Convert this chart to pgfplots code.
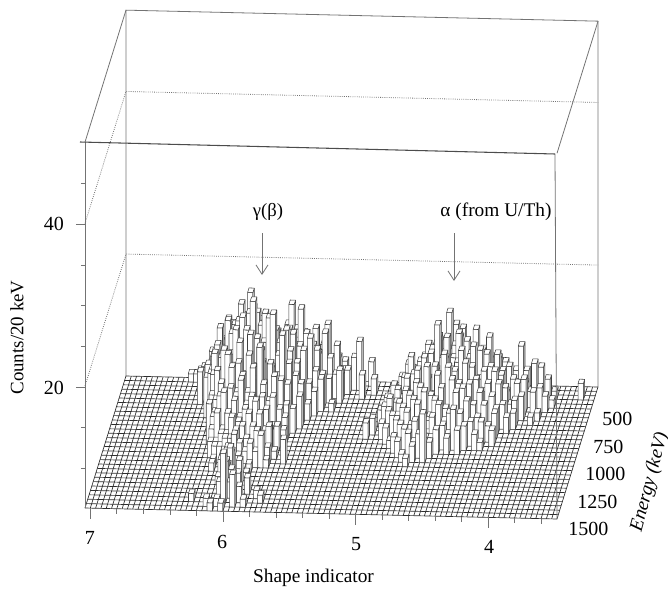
\documentclass[border=0pt]{standalone}
\usepackage{fontspec}
\setmainfont{Liberation Serif}
\usepackage{pgfplots}
\pgfplotsset{compat=1.18}
\usetikzlibrary{arrows.meta,calc}
\definecolor{boxc}{gray}{0.45}
\definecolor{gridc}{gray}{0.18}
\definecolor{barc}{gray}{0.25}
\pgfplotsset{colormap={bars}{gray(0cm)=(0.8); gray(1cm)=(1)},
  barpatch/.style={forget plot,patch,patch type=rectangle,shader=faceted,z buffer=none,
    point meta=explicit,point meta min=0,point meta max=1,colormap name=bars,
    faceted color=barc,line width=0.4pt}}
\newcommand\legorow[2]{%
  \pgfmathsetmacro\Eb{int(#1-40)}%
  \gdef\rowc{}%
  \foreach \s/\n in {#2}{%
    \pgfmathsetmacro\sb{\s-0.04}%
    \xdef\rowc{\rowc (\s,#1,5)[1](\sb,#1,5)[1](\sb,#1,\n)[1](\s,#1,\n)[1]
      (\sb,#1,5)[0](\sb,\Eb,5)[0](\sb,\Eb,\n)[0](\sb,#1,\n)[0]
      (\s,#1,\n)[1](\sb,#1,\n)[1](\sb,\Eb,\n)[1](\s,\Eb,\n)[1] }%
  }%
  \edef\doit{\noexpand\addplot3[barpatch] coordinates {\rowc};}\doit
}
\begin{document}
\begin{tikzpicture}[x=0.75pt,y=-0.75pt]
\begin{axis}[
  x={(-99.45pt,2.32pt)},y={(-0.025625pt,-0.0825pt)},z={(0pt,6.0975pt)},
  xmin=3.48,xmax=7.04,ymin=300,ymax=1500,zmin=5,zmax=50,
  hide axis,clip=false]
\coordinate (P0) at (axis cs:7.04,1500,5);
% back walls and top
\addplot3[forget plot,draw=boxc,line width=0.6pt] coordinates {(7.04,300,5)(7.04,300,50)(3.48,300,50)(3.48,300,5)};
\addplot3[forget plot,draw=boxc,line width=0.6pt] coordinates {(7.04,300,50)(7.04,1500,50)};
\addplot3[forget plot,draw=boxc,line width=0.6pt] coordinates {(3.48,300,50)(3.48,1500,50)};
\addplot3[forget plot,draw=boxc,line width=0.6pt,densely dotted] coordinates {(7.04,1500,40)(7.04,300,40)(3.48,300,40)};
\addplot3[forget plot,draw=boxc,line width=0.6pt,densely dotted] coordinates {(7.04,1500,20)(7.04,300,20)(3.48,300,20)};
\addplot3[forget plot,fill=white,draw=none] coordinates {(7.04,1500,5)(3.48,1500,5)(3.48,300,5)(7.04,300,5)} --cycle;
\pgfplotsinvokeforeach{0,...,89}{%
  \pgfmathsetmacro\gs{7.04-0.04*#1}%
  \addplot3[forget plot,draw=gridc,line width=0.5pt] coordinates {(\gs,1500,5)(\gs,300,5)};
}
\pgfplotsinvokeforeach{0,...,30}{%
  \pgfmathsetmacro\ge{1500-40*#1}%
  \addplot3[forget plot,draw=gridc,line width=0.5pt] coordinates {(7.04,\ge,5)(3.48,\ge,5)};
}
\legorow{340}{6.56/6,6.52/6,6.36/7,6.28/7,6.16/8,6.08/8,6.00/9,5.92/9,5.84/8,5.72/9,5.64/8,5.56/10,5.40/8,5.20/8,4.76/6,4.68/6,4.64/7,4.56/7,4.48/8,4.32/7}
\legorow{380}{6.48/7,6.40/8,6.32/7,6.28/9,6.24/8,6.20/9,6.12/9,6.08/10,6.00/10,5.96/11,5.92/9,5.88/10,5.84/9,5.80/10,5.72/10,5.68/11,5.64/8,5.60/10,5.56/9,5.52/13,5.48/8,5.44/9,5.32/9,5.28/11,4.80/7,4.72/8,4.68/8,4.60/8,4.56/9,4.48/8,4.40/9,4.32/7,4.24/8,4.12/7,3.96/6}
\legorow{420}{6.44/8,6.40/7,6.36/9,6.28/8,6.24/10,6.20/10,6.16/11,6.08/10,6.04/11,5.96/10,5.92/12,5.88/10,5.84/11,5.76/10,5.72/12,5.64/10,5.60/13,5.56/10,5.48/9,5.44/11,5.40/8,5.36/8,5.16/7,4.84/8,4.76/8,4.72/9,4.64/9,4.60/10,4.52/10,4.44/9,4.40/11,4.32/9,4.28/10,4.20/7,4.16/8,4.04/7,3.92/7,3.80/6,3.60/7}
\legorow{460}{6.44/7,6.40/8,6.32/10,6.28/9,6.24/12,6.16/10,6.12/12,6.04/12,6.00/14,5.96/12,5.92/11,5.88/13,5.84/11,5.80/14,5.72/12,5.68/13,5.64/11,5.60/10,5.52/13,5.48/10,5.44/8,5.40/8,5.24/8,4.88/8,4.84/8,4.80/9,4.72/10,4.68/12,4.60/10,4.56/11,4.52/10,4.48/14,4.40/10,4.36/11,4.28/13,4.20/10,4.16/10,4.08/9,4.04/12,4.00/9,3.92/9,3.84/8}
\legorow{500}{6.40/9,6.36/11,6.28/12,6.24/15,6.20/12,6.16/13,6.12/12,6.08/14,6.04/12,6.00/15,5.96/12,5.92/14,5.88/11,5.84/13,5.80/12,5.76/17,5.72/14,5.68/12,5.64/11,5.60/12,5.56/11,5.52/8,5.48/8,5.40/9,4.88/10,4.84/9,4.76/11,4.72/10,4.64/13,4.60/11,4.52/15,4.48/12,4.44/13,4.36/11,4.32/12,4.24/9,4.20/11,4.12/10,4.08/8,4.00/8,3.96/7,3.88/10,3.80/6}
\legorow{540}{6.44/9,6.36/9,6.32/11,6.28/13,6.24/12,6.20/15,6.16/12,6.12/16,6.08/13,6.04/17,6.00/13,5.96/15,5.92/12,5.88/13,5.84/12,5.80/14,5.76/13,5.72/13,5.68/17,5.64/14,5.60/11,5.56/12,5.52/9,4.92/9,4.88/8,4.84/10,4.76/11,4.72/13,4.68/11,4.64/14,4.60/12,4.56/17,4.52/13,4.48/14,4.40/12,4.36/15,4.32/11,4.28/12,4.20/12,4.16/10,4.08/9,4.00/9,3.92/11,3.88/8,3.84/7}
\legorow{580}{6.36/10,6.32/12,6.28/15,6.24/11,6.20/14,6.16/12,6.12/18,6.08/16,6.04/14,6.00/17,5.96/13,5.92/15,5.88/12,5.84/14,5.80/12,5.76/15,5.72/12,5.68/13,5.64/11,5.60/14,5.56/10,5.52/9,5.44/6,4.96/8,4.88/9,4.84/12,4.80/9,4.76/11,4.68/13,4.64/16,4.60/12,4.56/13,4.52/12,4.48/15,4.44/11,4.40/12,4.36/10,4.32/13,4.28/10,4.24/11,4.16/10,4.12/8,4.04/9,3.92/8}
\legorow{620}{6.36/11,6.32/12,6.28/10,6.24/13,6.20/14,6.16/16,6.12/13,6.08/15,6.04/20,6.00/14,5.96/16,5.92/13,5.88/16,5.84/12,5.80/14,5.76/12,5.72/15,5.68/11,5.64/13,5.60/9,5.56/8,4.96/9,4.92/8,4.88/10,4.84/9,4.76/12,4.72/10,4.68/13,4.64/11,4.56/15,4.52/11,4.48/12,4.44/10,4.36/14,4.32/10,4.28/11,4.24/9,4.20/11,4.12/9,4.08/7,4.00/8,3.88/6}
\legorow{660}{6.36/10,6.32/11,6.28/14,6.24/13,6.20/17,6.16/13,6.12/17,6.08/14,6.04/18,6.00/15,5.96/13,5.92/18,5.88/14,5.84/16,5.80/13,5.76/16,5.72/10,5.68/12,5.60/7,5.00/8,4.92/9,4.88/8,4.80/11,4.76/9,4.72/13,4.68/10,4.64/12,4.60/10,4.56/13,4.52/11,4.44/14,4.40/10,4.36/12,4.28/9,4.24/10,4.16/10,4.04/8,3.92/6}
\legorow{700}{6.32/11,6.28/10,6.24/13,6.20/12,6.16/16,6.12/14,6.08/18,6.04/14,6.00/20,5.96/14,5.92/15,5.88/18,5.84/13,5.80/15,5.76/11,5.72/14,5.68/11,5.64/10,5.04/7,4.96/7,4.92/8,4.84/11,4.80/9,4.76/12,4.68/11,4.64/9,4.56/14,4.52/10,4.48/12,4.44/10,4.40/13,4.36/9,4.32/11,4.20/9,4.12/8,4.04/7}
\legorow{740}{6.28/14,6.24/11,6.20/13,6.16/14,6.12/17,6.08/13,6.04/17,6.00/13,5.96/16,5.92/13,5.84/19,5.80/14,5.76/11,5.72/13,5.64/9,5.12/6,5.00/8,4.96/9,4.88/8,4.84/10,4.80/9,4.76/11,4.72/9,4.68/13,4.60/12,4.56/10,4.52/13,4.48/9,4.44/11,4.36/11,4.32/8,4.28/10,4.16/8,4.08/7}
\legorow{780}{6.28/12,6.24/11,6.20/15,6.16/13,6.12/13,6.08/16,6.04/12,6.00/17,5.96/13,5.92/15,5.88/11,5.84/13,5.80/12,5.76/17,5.72/11,5.68/8,5.08/7,4.96/8,4.92/7,4.88/9,4.80/10,4.76/8,4.72/11,4.64/10,4.60/9,4.56/11,4.48/12,4.44/9,4.40/11,4.32/9,4.24/9,4.16/8}
\legorow{820}{6.28/10,6.24/13,6.20/11,6.16/15,6.12/12,6.08/14,6.04/12,6.00/15,5.96/12,5.92/16,5.88/11,5.84/14,5.80/10,5.76/12,5.72/9,5.12/7,5.00/7,4.92/8,4.88/8,4.84/9,4.80/8,4.76/10,4.68/11,4.64/8,4.60/10,4.52/9,4.48/8,4.44/11,4.36/10,4.32/7,4.28/8,4.20/7}
\legorow{860}{6.28/9,6.24/10,6.20/12,6.16/11,6.12/14,6.08/11,6.04/13,6.00/11,5.96/14,5.92/10,5.88/12,5.84/10,5.80/13,5.76/9,5.72/8,4.96/7,4.88/8,4.84/7,4.80/9,4.72/10,4.68/8,4.64/8,4.56/10,4.52/8,4.48/9,4.40/9,4.36/7,4.32/8,4.24/8,4.16/7}
\legorow{900}{6.28/10,6.24/9,6.20/11,6.16/10,6.12/12,6.08/11,6.04/13,6.00/10,5.96/11,5.92/9,5.88/11,5.84/9,5.80/11,5.72/7,4.92/6,4.84/8,4.80/7,4.76/8,4.68/9,4.64/7,4.60/9,4.52/8,4.48/7,4.44/10,4.36/8,4.28/7,4.24/6}
\legorow{940}{6.24/9,6.20/8,6.16/12,6.12/9,6.08/11,6.04/9,6.00/10,5.96/9,5.92/11,5.88/8,5.84/10,5.80/8,5.76/8,4.88/7,4.80/8,4.76/7,4.72/9,4.64/7,4.60/7,4.56/8,4.48/7,4.40/8}
\legorow{980}{6.24/8,6.20/10,6.16/8,6.12/10,6.08/9,6.04/9,6.00/8,5.96/10,5.92/8,5.88/10,5.84/8,5.80/8,4.84/7,4.76/8,4.72/7,4.68/8,4.60/7}
\legorow{1020}{6.24/7,6.20/7,6.16/8,6.12/8,6.08/10,6.04/8,6.00/9,5.96/7,5.92/9,5.88/7,5.80/9,5.76/6,4.80/6,4.72/7,4.64/11}
\legorow{1060}{6.20/7,6.16/7,6.12/8,6.08/8,6.04/9,6.00/7,5.96/8,5.92/7,5.88/9,5.80/7,5.68/8,4.76/6}
\legorow{1100}{6.20/6,6.12/7,6.04/9,6.00/8,5.96/7,5.92/8,5.88/7,5.84/9,5.80/6}
\legorow{1140}{6.20/6,6.12/7,6.08/8,6.00/7,5.92/6}
\legorow{1180}{6.12/7,6.08/8,6.04/8,5.96/6}
\legorow{1220}{6.08/7,6.04/9,5.92/6}
\legorow{1260}{6.12/6,6.08/8,6.00/6,5.96/8}
\legorow{1300}{6.04/8,5.96/7}
\legorow{1340}{6.04/9,6.00/8,5.88/7}
\legorow{1380}{6.08/7,6.00/7,5.80/6}
\legorow{1420}{6.28/6,6.04/11,5.92/7,5.76/6}
\legorow{1460}{6.16/6,6.08/6,5.96/9,5.88/6}
\legorow{1500}{6.12/6,6.04/6}
\end{axis}
\begin{scope}[shift={($(P0)-(85,508)$)}]
\path[use as bounding box] (0,0) rectangle (668,590);
% front edges
\draw[boxc,line width=0.6pt] (85,142) -- (85,508);
\draw[boxc,line width=0.6pt] (555,154) -- (557,519);
\draw[black!70,line width=0.8pt] (80,142) -- (555,154);
% x ticks
\foreach \k in {0,1,...,17}{
  \pgfmathsetmacro\xx{90.3+26.52*\k}\pgfmathsetmacro\yy{508.2+0.618*\k}
  \pgfmathsetmacro\ll{ifthenelse(mod(\k,5)==0,11,5)}
  \draw[boxc,line width=0.5pt] (\xx,\yy) -- (\xx,\yy+\ll);
}
% z ticks
\foreach \yy in {183,265,305.5,346,427,468}{\draw[boxc,line width=0.5pt] (81,\yy) -- (85,\yy);}
\foreach \yy in {224,387}{\draw[boxc,line width=0.5pt] (76,\yy) -- (85,\yy);}
\node[font=\fontsize{15}{18}\selectfont] at (54,224) {40};
\node[font=\fontsize{15}{18}\selectfont] at (54,388) {20};
\foreach \xx/\yy/\t in {90/538/7,222/542/6,356/544/5,489/547/4}{
  \node[font=\fontsize{15}{18}\selectfont] at (\xx,\yy) {\t};
}
\foreach \xx/\yy/\t in {602/419/500,593/447/750,585/474/1000,577/502/1250,568/529/1500}{
  \node[font=\fontsize{15}{18}\selectfont,anchor=west,inner sep=0pt] at (\xx,\yy) {\t};
}
\node[font=\fontsize{14.5}{16}\selectfont] at (313.5,578) {Shape indicator};
\node[font=\fontsize{14.2}{16}\selectfont,rotate=90] at (17,337.5) {Counts/20 keV};
\node[font=\fontsize{14.5}{16}\selectfont\itshape,rotate=75] at (650,482) {Energy (keV)};
\node[font=\fontsize{14}{16}\selectfont] at (268,212) {γ(β)};
\node[font=\fontsize{14.5}{16}\selectfont] at (496,212) {α (from U/Th)};
\draw[boxc,line width=0.6pt,-{Straight Barb[length=7pt,width=9pt]}] (262,233) -- (262,275);
\draw[boxc,line width=0.6pt,-{Straight Barb[length=7pt,width=9pt]}] (454,233) -- (454,281);
\end{scope}
\end{tikzpicture}
\end{document}
